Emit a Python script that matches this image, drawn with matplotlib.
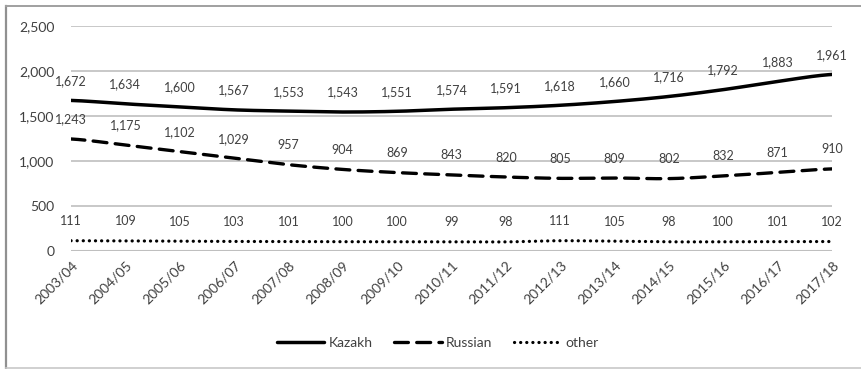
import numpy as np
import matplotlib.pyplot as plt
from matplotlib.lines import Line2D

plt.rcParams['font.family'] = ['Lato', 'DejaVu Sans']
plt.rcParams['lines.scale_dashes'] = False

years = ['2003/04', '2004/05', '2005/06', '2006/07', '2007/08', '2008/09', '2009/10',
         '2010/11', '2011/12', '2012/13', '2013/14', '2014/15', '2015/16', '2016/17',
         '2017/18']
kazakh = [1672, 1634, 1600, 1567, 1553, 1543, 1551, 1574, 1591, 1618, 1660, 1716,
          1792, 1883, 1961]
russian = [1243, 1175, 1102, 1029, 957, 904, 869, 843, 820, 805, 809, 802, 832, 871, 910]
other = [111, 109, 105, 103, 101, 100, 100, 99, 98, 111, 105, 98, 100, 101, 102]


def smooth(xs, ys, n=30):
    # Catmull-Rom spline through the points, like a "smoothed line" chart
    xs = np.asarray(xs, float)
    ys = np.asarray(ys, float)
    px = np.concatenate([[2 * xs[0] - xs[1]], xs, [2 * xs[-1] - xs[-2]]])
    py = np.concatenate([[ys[0]], ys, [ys[-1]]])
    outx, outy = [], []
    t = np.linspace(0, 1, n, endpoint=False)
    for i in range(1, len(px) - 2):
        for arr, out in ((px, outx), (py, outy)):
            p0, p1, p2, p3 = arr[i - 1], arr[i], arr[i + 1], arr[i + 2]
            out.extend(0.5 * (2 * p1 + (-p0 + p2) * t
                              + (2 * p0 - 5 * p1 + 4 * p2 - p3) * t ** 2
                              + (-p0 + 3 * p1 - 3 * p2 + p3) * t ** 3))
    outx.append(xs[-1])
    outy.append(ys[-1])
    return np.array(outx), np.array(outy)


W, H = 861, 369
fig = plt.figure(figsize=(W / 100, H / 100), dpi=100)
ax = fig.add_axes([71 / W, 1 - 250.7 / H, (832 - 71) / W, (250.7 - 26) / H])

# outer frame: left, top and bottom edges (right edge runs off the image)
l, t, b = 6 / W, 1 - 6 / H, 1 - 367.5 / H
fig.add_artist(Line2D([l, l], [b, t], transform=fig.transFigure, color='#909090', lw=1.6))
fig.add_artist(Line2D([l, 1], [t, t], transform=fig.transFigure, color='#a0a0a0', lw=1.4))
fig.add_artist(Line2D([l, 1], [b, b], transform=fig.transFigure, color='#c8c8c8', lw=1.2))

x = np.arange(len(years))
txt = '#404040'

kx, ky = smooth(x, kazakh)
rx, ry = smooth(x, russian)
ox, oy = smooth(x, other)
ax.plot(kx, ky, color='black', lw=2.5, solid_capstyle='round', label='Kazakh')
ax.plot(rx, ry, color='black', lw=2.4, dashes=(10, 6), dash_capstyle='round',
        label='Russian')
ax.plot(ox, oy, color='black', lw=2.3, dashes=(0.1, 4.3), dash_capstyle='round',
        label='other')

for series in (kazakh, russian, other):
    for xi, v in zip(x, series):
        ax.annotate(f'{v:,}', (xi, v), xytext=(0, 14), textcoords='offset points',
                    ha='center', va='center', fontsize=9, color=txt)

ax.set_xlim(0, len(years) - 1)
ax.set_ylim(0, 2500)
ax.set_yticks(range(0, 2501, 500))
ax.set_yticklabels([f'{v:,}' for v in range(0, 2501, 500)])
ax.set_xticks(x)
ax.set_xticklabels(years, rotation=45, ha='right', rotation_mode='anchor')
ax.tick_params(axis='y', length=0, pad=12, labelsize=10, labelcolor=txt)
ax.tick_params(axis='x', length=0, pad=6, labelsize=10, labelcolor=txt)
ax.grid(axis='y', color='#bfbfbf', lw=1.2)
ax.set_axisbelow(True)
for s in ax.spines.values():
    s.set_visible(False)
ax.axhline(0, color='#bfbfbf', lw=1.5, zorder=0)

fig.legend(loc='center', bbox_to_anchor=(438 / W, 1 - 343 / H), ncol=3, frameon=False,
           fontsize=10, labelcolor=txt, handlelength=3.4, handletextpad=0.3,
           columnspacing=1.6)

fig.savefig('out.png', dpi=100)
